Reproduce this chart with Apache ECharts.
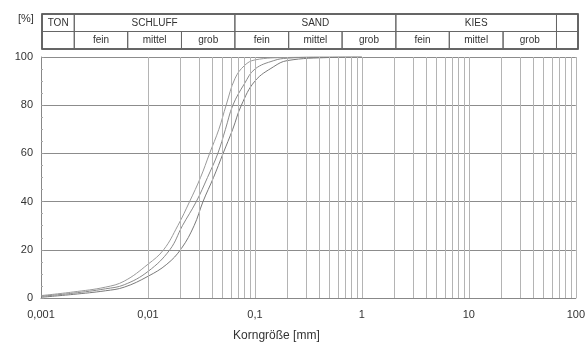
<!DOCTYPE html>
<html>
<head>
<meta charset="utf-8">
<script src="https://cdn.jsdelivr.net/npm/echarts@6/dist/echarts.min.js"></script>
<style>
html,body{margin:0;padding:0;background:#fff;}
#chart{width:588px;height:350px;}
</style>
</head>
<body>
<div id="chart"></div>
<script>
// Sieblinien (Korngröße in mm, Siebdurchgang in %)
var curveA = [[0.001,1],[0.002,2.5],[0.004,4.5],[0.006,7],[0.01,14],[0.014,20],[0.019,30],[0.0245,40],[0.031,50],[0.0377,60],[0.046,70],[0.0538,80],[0.065,91],[0.08,96.5],[0.1,98.8],[0.2,99.8],[0.5,100],[1,100]];
var curveB = [[0.001,0.7],[0.002,2],[0.004,3.8],[0.006,5.5],[0.01,11],[0.016,20],[0.021,30],[0.0283,40],[0.036,50],[0.045,60],[0.053,70],[0.0622,80],[0.08,89],[0.1,95],[0.15,98.5],[0.2,99.5],[0.5,100],[1,100]];
var curveC = [[0.001,0.3],[0.002,1.5],[0.004,3],[0.006,4.5],[0.01,9],[0.015,14],[0.0205,20.5],[0.027,30],[0.0327,40],[0.041,50],[0.0504,60],[0.062,70],[0.0747,80],[0.1,90],[0.15,96],[0.2,98.5],[0.5,99.8],[1,100]];

// Kopfzeile: Bodenarten
var groupFrom = [0.001, 0.002, 0.063, 2, 63];
var groupTo   = [0.002, 0.063, 2, 63, 100];
var groupText = ['TON', 'SCHLUFF', 'SAND', 'KIES', ''];
var subFrom = [0.001, 0.002, 0.0063, 0.02, 0.063, 0.2, 0.63, 2, 6.3, 20, 63];
var subTo   = [0.002, 0.0063, 0.02, 0.063, 0.2, 0.63, 2, 6.3, 20, 63, 100];
var subText = ['', 'fein', 'mittel', 'grob', 'fein', 'mittel', 'grob', 'fein', 'mittel', 'grob', ''];

// senkrechte Gitterlinien 1..9 je Dekade
var vLines = [];
for (var d = 0.001; d < 50; d *= 10) {
  for (var k = 1; k <= 9; k++) vLines.push({xAxis: +(k * d).toPrecision(3)});
}
vLines.push({xAxis: 100});

var headerData = [], headerLabels = [];
for (var i = 0; i < groupFrom.length; i++) { headerData.push([groupFrom[i], groupTo[i], 0]); headerLabels.push(groupText[i]); }
for (var j = 0; j < subFrom.length; j++) { headerData.push([subFrom[j], subTo[j], 1]); headerLabels.push(subText[j]); }

var font = 'Liberation Sans, Arial, sans-serif';
var chart = echarts.init(document.getElementById('chart'));

var option = {
  animation: false,
  graphic: [{type: 'text', left: 18, top: 13, style: {text: '[%]', fontSize: 11, fill: '#333', fontFamily: font}}],
  grid: [
    {left: 41, right: 11, top: 57, bottom: 52},
    {left: 42, right: 10, top: 14, height: 35, show: true, borderColor: '#333', borderWidth: 1.5, backgroundColor: 'transparent'}
  ],
  xAxis: [
    {
      type: 'log', logBase: 10, min: 0.001, max: 100, gridIndex: 0,
      name: 'Korngröße [mm]', nameLocation: 'middle', nameGap: 32,
      nameTextStyle: {fontSize: 12, color: '#333', fontFamily: font, padding: [0, 64, 0, 0]},
      axisLine: {lineStyle: {color: '#888'}},
      axisTick: {show: false},
      splitLine: {show: false},
      axisLabel: {
        fontSize: 11, color: '#333', fontFamily: font, margin: 11,
        formatter: function (v) { return String(+v.toPrecision(6)).replace('.', ','); }
      }
    },
    {type: 'log', logBase: 10, min: 0.001, max: 100, gridIndex: 1, show: false}
  ],
  yAxis: [
    {
      type: 'value', min: 0, max: 100, interval: 20, gridIndex: 0,
      axisLine: {show: true, lineStyle: {color: '#888'}},
      axisTick: {show: true, inside: true, length: 3, lineStyle: {color: '#999'}},
      minorTick: {show: true, splitNumber: 4, length: 2, lineStyle: {color: '#aaa'}},
      splitLine: {lineStyle: {color: '#8c8c8c', width: 1}},
      axisLabel: {fontSize: 11, color: '#333', fontFamily: font, margin: 8}
    },
    {type: 'value', min: 0, max: 2, gridIndex: 1, show: false}
  ],
  series: [
    {
      type: 'line', xAxisIndex: 0, yAxisIndex: 0, data: [], silent: true,
      markLine: {
        silent: true, symbol: 'none', label: {show: false},
        lineStyle: {color: '#b4b4b4', type: 'solid', width: 1},
        data: vLines
      }
    },
    {type: 'line', data: curveA, smooth: 0.4, symbol: 'none', lineStyle: {color: '#9a9a9a', width: 1}},
    {type: 'line', data: curveB, smooth: 0.4, symbol: 'none', lineStyle: {color: '#8a8a8a', width: 1}},
    {type: 'line', data: curveC, smooth: 0.4, symbol: 'none', lineStyle: {color: '#7a7a7a', width: 1}},
    {
      type: 'custom', xAxisIndex: 1, yAxisIndex: 1, data: headerData, silent: true,
      renderItem: function (params, api) {
        var r = api.value(2);
        var p0 = api.coord([api.value(0), 2 - r]);
        var p1 = api.coord([api.value(1), 1 - r]);
        return {
          type: 'group',
          children: [
            {type: 'rect', shape: {x: p0[0], y: p0[1], width: p1[0] - p0[0], height: p1[1] - p0[1]},
             style: {fill: 'none', stroke: '#666', lineWidth: 1}},
            {type: 'text', x: (p0[0] + p1[0]) / 2, y: (p0[1] + p1[1]) / 2,
             style: {text: headerLabels[params.dataIndex], fontSize: 10, fill: '#333', fontFamily: font, align: 'center', verticalAlign: 'middle'}}
          ]
        };
      }
    }
  ]
};
chart.setOption(option);
</script>
</body>
</html>
